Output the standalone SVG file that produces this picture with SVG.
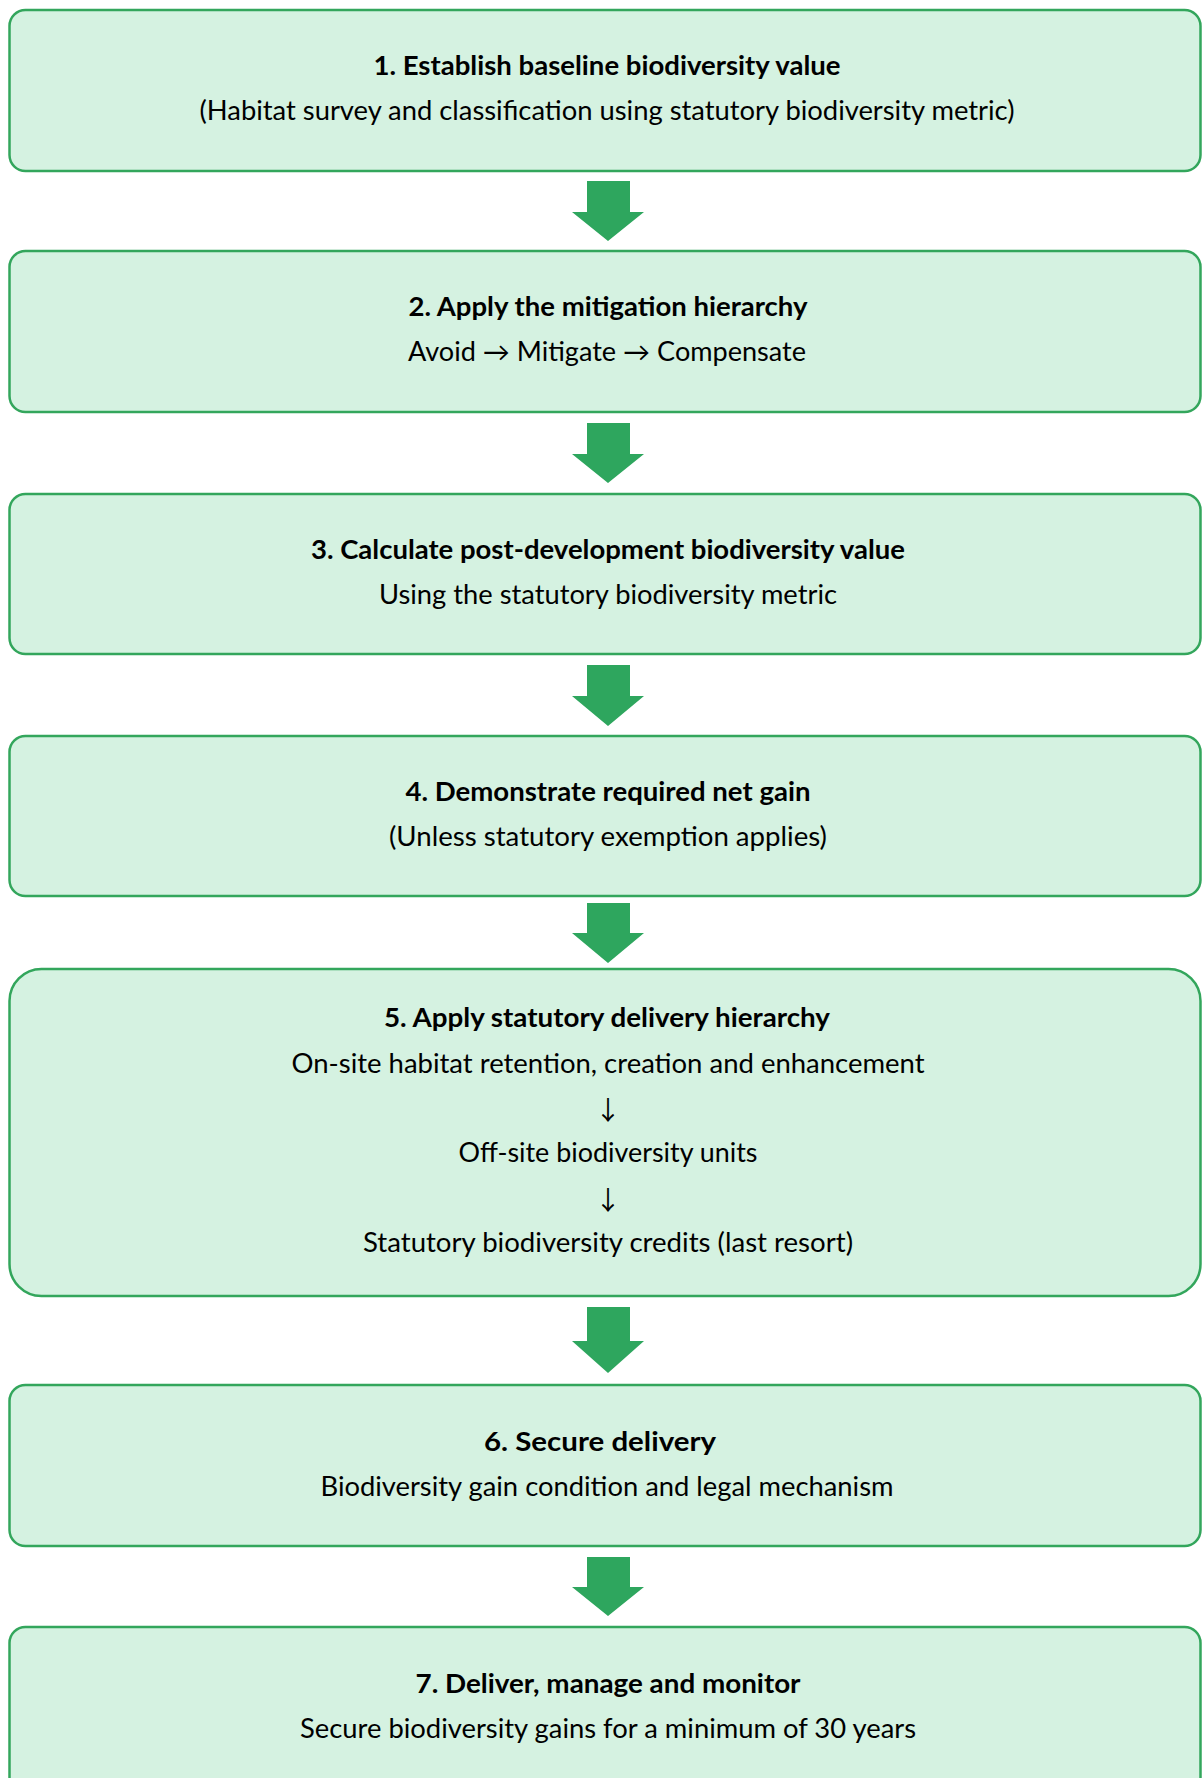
<svg xmlns="http://www.w3.org/2000/svg" width="1202" height="1778" viewBox="0 0 1202 1778">
<style>
.box{fill:#d5f2e1;stroke:#33a65c;stroke-width:2.5}
.arr{fill:#2ea65e}
text{font-family:Lato,"Liberation Sans","DejaVu Sans",sans-serif;font-size:26px;fill:#000;text-anchor:middle}
.t{font-weight:bold}
.sym{font-family:"Noto Sans CJK SC","DejaVu Sans",sans-serif;font-size:26px}
</style>
<rect width="1202" height="1778" fill="#fff"/>
<g id="connectors">
<polygon class="arr" points="587,181 630,181 630,212 644,212 608,241 572,212 587,212"/>
<polygon class="arr" points="587,423 630,423 630,454 644,454 608,483 572,454 587,454"/>
<polygon class="arr" points="587,665 630,665 630,696 644,696 608,726 572,696 587,696"/>
<polygon class="arr" points="587,903 630,903 630,933 644,933 608,963 572,933 587,933"/>
<polygon class="arr" points="587,1307 630,1307 630,1341 644,1341 608,1373 572,1341 587,1341"/>
<polygon class="arr" points="587,1557 630,1557 630,1587 644,1587 608,1616 572,1587 587,1587"/>
</g>
<g id="step1">
<rect class="box" x="9.5" y="10" width="1191" height="161" rx="16"/>
<text class="t" x="607" y="75" textLength="467" lengthAdjust="spacingAndGlyphs">1. Establish baseline biodiversity value</text>
<text x="607" y="120" textLength="815" lengthAdjust="spacingAndGlyphs">(Habitat survey and classification using statutory biodiversity metric)</text>
</g>
<g id="step2">
<rect class="box" x="9.5" y="251" width="1191" height="161" rx="16"/>
<text class="t" x="608" y="316" textLength="399" lengthAdjust="spacingAndGlyphs">2. Apply the mitigation hierarchy</text>
<text x="607" y="361" textLength="398" lengthAdjust="spacingAndGlyphs">Avoid → Mitigate → Compensate</text>
</g>
<g id="step3">
<rect class="box" x="9.5" y="494" width="1191" height="160" rx="16"/>
<text class="t" x="608" y="559" textLength="594" lengthAdjust="spacingAndGlyphs">3. Calculate post-development biodiversity value</text>
<text x="608" y="604" textLength="458" lengthAdjust="spacingAndGlyphs">Using the statutory biodiversity metric</text>
</g>
<g id="step4">
<rect class="box" x="9.5" y="736" width="1191" height="160" rx="16"/>
<text class="t" x="608" y="801" textLength="405" lengthAdjust="spacingAndGlyphs">4. Demonstrate required net gain</text>
<text x="608" y="846" textLength="438" lengthAdjust="spacingAndGlyphs">(Unless statutory exemption applies)</text>
</g>
<g id="step5">
<rect class="box" x="9.5" y="969" width="1191" height="327" rx="32"/>
<text class="t" x="607" y="1027" textLength="446" lengthAdjust="spacingAndGlyphs">5. Apply statutory delivery hierarchy</text>
<text x="608" y="1073" textLength="633" lengthAdjust="spacingAndGlyphs">On-site habitat retention, creation and enhancement</text>
<text class="sym" x="608" y="1120">↓</text>
<text x="608" y="1162" textLength="299" lengthAdjust="spacingAndGlyphs">Off-site biodiversity units</text>
<text class="sym" x="608" y="1210">↓</text>
<text x="608" y="1252" textLength="490" lengthAdjust="spacingAndGlyphs">Statutory biodiversity credits (last resort)</text>
</g>
<g id="step6">
<rect class="box" x="9.5" y="1385" width="1191" height="161" rx="16"/>
<text class="t" x="600" y="1451" textLength="232" lengthAdjust="spacingAndGlyphs">6. Secure delivery</text>
<text x="607" y="1496" textLength="573" lengthAdjust="spacingAndGlyphs">Biodiversity gain condition and legal mechanism</text>
</g>
<g id="step7">
<rect class="box" x="9.5" y="1627" width="1191" height="200" rx="16"/>
<text class="t" x="608" y="1693" textLength="385" lengthAdjust="spacingAndGlyphs">7. Deliver, manage and monitor</text>
<text x="608" y="1738" textLength="616" lengthAdjust="spacingAndGlyphs">Secure biodiversity gains for a minimum of 30 years</text>
</g>
</svg>
